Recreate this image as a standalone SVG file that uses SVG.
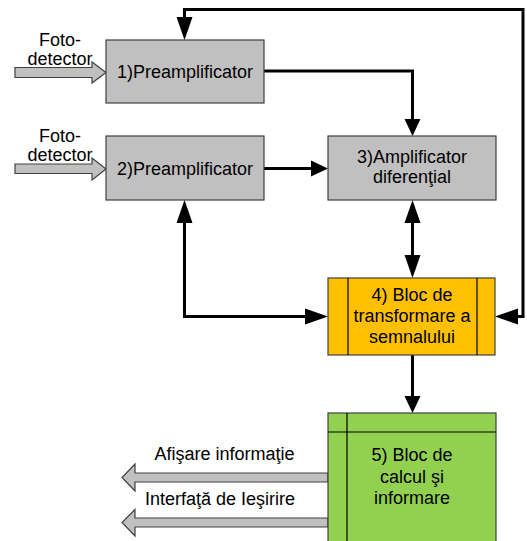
<svg xmlns="http://www.w3.org/2000/svg" width="527" height="541" viewBox="0 0 527 541">
<style>
text{font-family:"Liberation Sans",Arial,sans-serif;font-size:18px;fill:#000;text-anchor:middle}
.box{stroke:#404040;stroke-width:1.2}
.gray{fill:#C0C0C0}
.orange{fill:#FFC000}
.green{fill:#92D050}
.inner{stroke:#000;stroke-width:1.2;fill:none}
.blk{fill:#C0C0C0;stroke:#404040;stroke-width:1.2}
.con{fill:none;stroke:#000;stroke-width:3}
</style>
<defs>
<marker id="ah" markerUnits="userSpaceOnUse" markerWidth="17" markerHeight="16" refX="13" refY="8" orient="auto-start-reverse" overflow="visible"><path d="M0,0 L17,8 L0,16 z" fill="#000"/></marker>
<marker id="al" markerUnits="userSpaceOnUse" markerWidth="23" markerHeight="16" refX="19" refY="8" orient="auto-start-reverse" overflow="visible"><path d="M0,0 L23,8 L0,16 z" fill="#000"/></marker>
</defs>
<g id="input1">
<path class="blk" d="M15,67.5 H92 V62 L106,72.5 L92,83 V77.5 H15 z"/>
<text x="60" y="46">Foto-</text>
<text x="60" y="65">detector</text>
</g>
<g id="input2">
<path class="blk" d="M15,164 H92 V158 L106,169 L92,180 V173.5 H15 z"/>
<text x="60" y="142">Foto-</text>
<text x="60" y="161">detector</text>
</g>
<g id="connectors">
<path class="con" d="M499,316.5 H523 V9.5 H184.5 V36" marker-start="url(#al)" marker-end="url(#al)"/>
<path class="con" d="M264,71 H412.5 V132" marker-end="url(#ah)"/>
<path class="con" d="M264,168.5 H324" marker-end="url(#ah)"/>
<path class="con" d="M184.5,204 V316.5 H324" marker-start="url(#al)" marker-end="url(#al)"/>
<path class="con" d="M412.5,204 V274" marker-start="url(#al)" marker-end="url(#al)"/>
<path class="con" d="M412.5,355 V409" marker-end="url(#ah)"/>
</g>
<g id="n1">
<rect class="box gray" x="106" y="40" width="158" height="63"/>
<text x="185" y="78">1)Preamplificator</text>
</g>
<g id="n2">
<rect class="box gray" x="106" y="136" width="158" height="64"/>
<text x="185" y="175">2)Preamplificator</text>
</g>
<g id="n3">
<rect class="box gray" x="328" y="136" width="168" height="64"/>
<text x="412" y="163">3)Amplificator</text>
<text x="412" y="183">diferenţial</text>
</g>
<g id="n4">
<rect class="box orange" x="328" y="278" width="167" height="77"/>
<line class="inner" x1="348" y1="278" x2="348" y2="355"/>
<line class="inner" x1="477" y1="278" x2="477" y2="355"/>
<text x="412" y="301">4) Bloc de</text>
<text x="412" y="322">transformare a</text>
<text x="412" y="343">semnalului</text>
</g>
<g id="out1">
<path class="blk" d="M328,473 H135 V464 L122,477.5 L135,491 V482 H328 z"/>
<text x="224.5" y="460">Afişare informaţie</text>
</g>
<g id="out2">
<path class="blk" d="M328,518 H135 V509.5 L122,522.5 L135,536 V527 H328 z"/>
<text x="220" y="505">Interfaţă de Ieşirire</text>
</g>
<g id="n5">
<rect class="box green" x="328" y="413" width="168" height="140"/>
<line class="inner" x1="347" y1="413" x2="347" y2="541"/>
<line class="inner" x1="328" y1="432" x2="496" y2="432"/>
<text x="412" y="461">5) Bloc de</text>
<text x="412" y="483">calcul şi</text>
<text x="412" y="504">informare</text>
</g>
</svg>
